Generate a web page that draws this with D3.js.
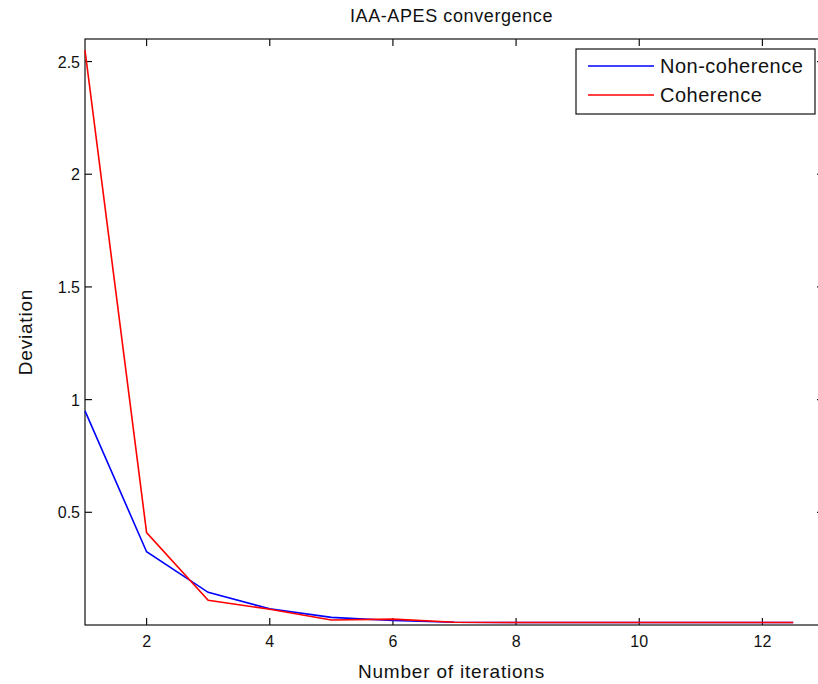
<!DOCTYPE html>
<html>
<head>
<meta charset="utf-8">
<script src="https://cdn.jsdelivr.net/npm/d3@7"></script>
<style>
  html, body { margin: 0; padding: 0; background: #fff; overflow: hidden; }
  text { font-family: "Liberation Sans", Arial, sans-serif; fill: #111; }
</style>
</head>
<body>
<script>
// iterations and deviation values
const iterations = [1, 2, 3, 4, 5, 6, 7, 8, 9, 10, 11, 12, 12.5];
const nonCoherence = [0.95, 0.325, 0.145, 0.072, 0.034, 0.02, 0.012, 0.011, 0.011, 0.011, 0.011, 0.011, 0.011];
const coherence = [2.55, 0.41, 0.11, 0.07, 0.022, 0.026, 0.012, 0.011, 0.011, 0.011, 0.011, 0.011, 0.011];
const xTicks = [2, 4, 6, 8, 10, 12];
const yTicks = [0.5, 1, 1.5, 2, 2.5];
const seriesNames = ["Non-coherence", "Coherence"];
const seriesColors = ["#0000ff", "#ff0000"];

const width = 818, height = 684;
const plotLeft = 85, plotRight = 824, plotTop = 39, plotBottom = 625;
const tickLen = 7;

const x = d3.scaleLinear().domain([1, 13]).range([plotLeft, plotRight]);
const y = d3.scaleLinear().domain([0, 2.6]).range([plotBottom, plotTop]);

const svg = d3.select("body").append("svg")
    .attr("width", width)
    .attr("height", height);

// axes box
svg.append("rect")
    .attr("x", plotLeft).attr("y", plotTop)
    .attr("width", plotRight - plotLeft).attr("height", plotBottom - plotTop)
    .attr("fill", "none").attr("stroke", "#111").attr("stroke-width", 1.2);

// inward ticks on all four sides
const ticks = svg.append("g").attr("stroke", "#111").attr("stroke-width", 1.2);
xTicks.forEach(t => {
    ticks.append("line").attr("x1", x(t)).attr("x2", x(t)).attr("y1", plotBottom).attr("y2", plotBottom - tickLen);
    ticks.append("line").attr("x1", x(t)).attr("x2", x(t)).attr("y1", plotTop).attr("y2", plotTop + tickLen);
});
yTicks.forEach(t => {
    ticks.append("line").attr("x1", plotLeft).attr("x2", plotLeft + tickLen).attr("y1", y(t)).attr("y2", y(t));
    ticks.append("line").attr("x1", plotRight).attr("x2", plotRight - tickLen).attr("y1", y(t)).attr("y2", y(t));
});

svg.append("g").selectAll("text").data(xTicks).join("text")
    .attr("x", d => x(d)).attr("y", 647)
    .attr("text-anchor", "middle")
    .attr("font-size", 16)
    .text(d => d);

svg.append("g").selectAll("text").data(yTicks).join("text")
    .attr("x", plotLeft - 5).attr("y", d => y(d) + 6)
    .attr("text-anchor", "end")
    .attr("font-size", 16)
    .text(d => d);

// lines
const line = d3.line().x((d, i) => x(iterations[i])).y(d => y(d));
[nonCoherence, coherence].forEach((s, k) => {
    svg.append("path")
        .datum(s)
        .attr("d", line)
        .attr("fill", "none")
        .attr("stroke", seriesColors[k])
        .attr("stroke-width", 1.6);
});

// titles
svg.append("text")
    .attr("x", (plotLeft + plotRight) / 2 - 3).attr("y", 22)
    .attr("text-anchor", "middle").attr("font-size", 18)
    .attr("letter-spacing", 0.6)
    .text("IAA-APES convergence");

svg.append("text")
    .attr("x", (plotLeft + plotRight) / 2 - 3).attr("y", 678)
    .attr("text-anchor", "middle").attr("font-size", 19)
    .attr("letter-spacing", 0.8)
    .text("Number of iterations");

svg.append("text")
    .attr("transform", `translate(32,${(plotTop + plotBottom) / 2}) rotate(-90)`)
    .attr("text-anchor", "middle").attr("font-size", 19)
    .attr("letter-spacing", 0.8)
    .text("Deviation");

// legend
const legend = svg.append("g");
legend.append("rect")
    .attr("x", 576).attr("y", 49).attr("width", 239).attr("height", 65)
    .attr("fill", "#fff").attr("stroke", "#111").attr("stroke-width", 1.2);
seriesNames.forEach((name, i) => {
    const ly = 66 + i * 29;
    legend.append("line")
        .attr("x1", 588).attr("x2", 654).attr("y1", ly).attr("y2", ly)
        .attr("stroke", seriesColors[i]).attr("stroke-width", 1.6);
    legend.append("text")
        .attr("x", 660).attr("y", ly + 7)
        .attr("font-size", 20)
        .attr("letter-spacing", 0.5)
        .text(name);
});
</script>
</body>
</html>
